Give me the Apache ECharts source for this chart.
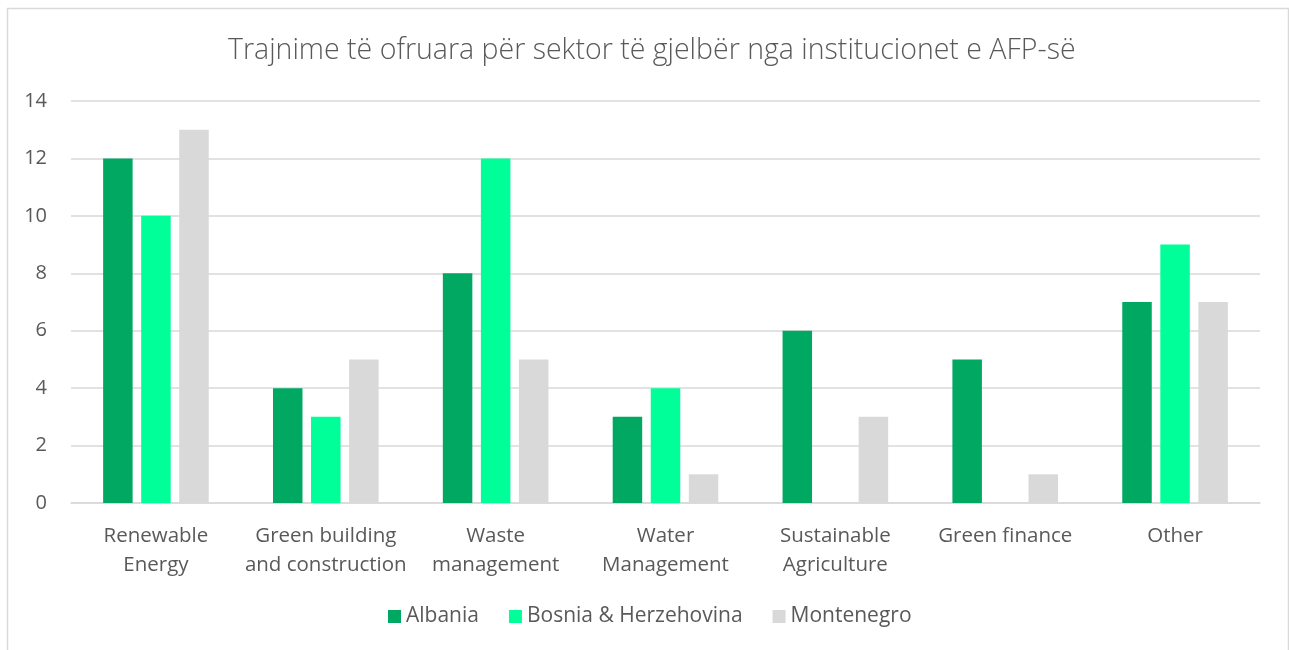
<!DOCTYPE html>
<html lang="sq">
<head>
    <meta charset="UTF-8">
    <title>Trajnime</title>
    <script type="text/javascript" src="https://cdn.jsdelivr.net/npm/echarts@6/dist/echarts.min.js"></script>
    <style>
        body { margin: 0; background: #fff; }
        #main { width: 1289px; height: 650px; }
    </style>
</head>
<body>
<div id="main"></div>
<script>
    // te dhenat
    var categories = ['Renewable\nEnergy', 'Green building\nand construction', 'Waste\nmanagement',
        'Water\nManagement', 'Sustainable\nAgriculture', 'Green finance', 'Other'];
    var albania = [12, 4, 8, 3, 6, 5, 7];
    var bosnia = [10, 3, 12, 4, 0, 0, 9];
    var montenegro = [13, 5, 5, 1, 3, 1, 7];
    var yTicks = [0, 2, 4, 6, 8, 10, 12, 14];

    var font = '"Open Sans", "Noto Sans", sans-serif';
    var txt = '#595959';

    var myChart = echarts.init(document.getElementById('main'));
    var option = {
        animation: false,
        textStyle: { fontFamily: font },
        graphic: [{
            type: 'rect',
            shape: { x: 7.5, y: 8.5, width: 1281, height: 700 },
            style: { fill: 'none', stroke: '#D9D9D9', lineWidth: 1.5 },
            silent: true
        }],
        title: {
            text: 'Trajnime të ofruara për sektor të gjelbër nga institucionet e AFP-së',
            left: 223,
            top: 31,
            textStyle: { color: txt, fontSize: 28.5, fontWeight: 300, fontFamily: font }
        },
        legend: {
            bottom: 18,
            left: 383,
            itemWidth: 13,
            itemHeight: 13,
            itemGap: 30,
            icon: 'rect',
            textStyle: { color: txt, fontSize: 21, fontFamily: font },
            data: ['Albania', 'Bosnia & Herzehovina', 'Montenegro']
        },
        grid: { left: 71, right: 29, top: 101, bottom: 147 },
        xAxis: {
            type: 'category',
            data: categories,
            axisLine: { lineStyle: { color: '#D9D9D9', width: 1.5 } },
            axisTick: { show: false },
            axisLabel: { color: txt, fontSize: 20.5, lineHeight: 29, margin: 19, interval: 0 }
        },
        yAxis: {
            type: 'value',
            min: yTicks[0],
            max: yTicks[yTicks.length - 1],
            interval: 2,
            axisLine: { show: false },
            axisTick: { show: false },
            axisLabel: { color: txt, fontSize: 20, margin: 24 },
            splitLine: { lineStyle: { color: '#D9D9D9', width: 1.5 } }
        },
        series: [
            { name: 'Albania', type: 'bar', data: albania, barWidth: 29.5, barGap: '29%',
              itemStyle: { color: '#00A862' } },
            { name: 'Bosnia & Herzehovina', type: 'bar', data: bosnia, barWidth: 29.5, barGap: '29%',
              itemStyle: { color: '#00FF99' } },
            { name: 'Montenegro', type: 'bar', data: montenegro, barWidth: 29.5, barGap: '29%',
              itemStyle: { color: '#D9D9D9' } }
        ]
    };
    myChart.setOption(option);
</script>
</body>
</html>
